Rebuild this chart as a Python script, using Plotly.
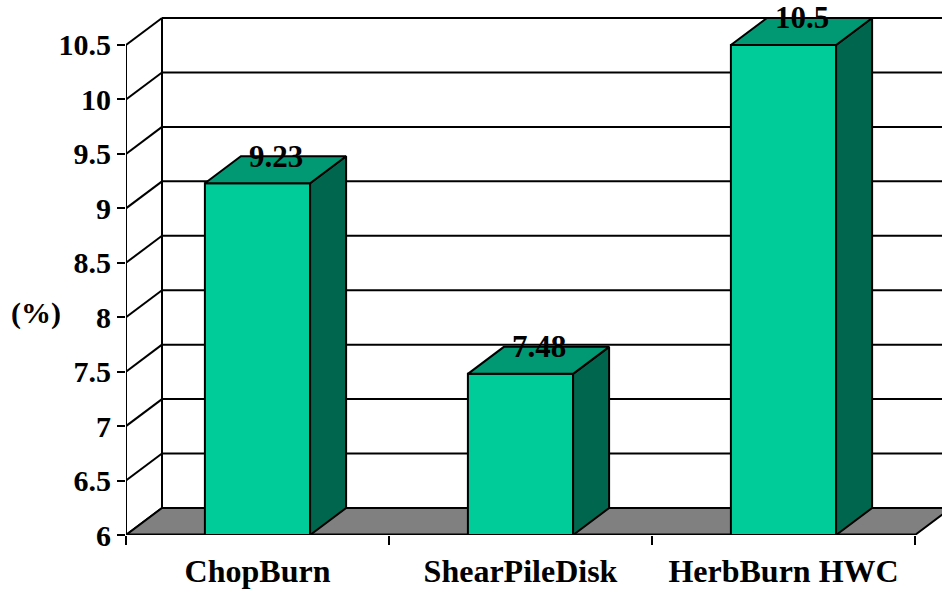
import plotly.graph_objects as go

categories = ["ChopBurn", "ShearPileDisk", "HerbBurn HWC"]
values = [9.23, 7.48, 10.5]
value_labels = ["9.23", "7.48", "10.5"]
y_ticks = [6, 6.5, 7, 7.5, 8, 8.5, 9, 9.5, 10, 10.5]
y_ticktext = ["6", "6.5", "7", "7.5", "8", "8.5", "9", "9.5", "10", "10.5"]

# 3D look parameters (in axis units)
BASE = 6.0
DX = 36 / 263.0      # depth offset along x (category units)
DY = 27 / 108.89     # depth offset along y (value units)
HW = 0.2             # half bar width (category units)
X0, X1 = -0.5, len(categories) - 0.5

FRONT = "#00CC99"
TOP = "#009973"
SIDE = "#00664D"
FLOOR = "#808080"
FONT = "Liberation Serif"

fig = go.Figure()
shapes = []

def line(x0, y0, x1, y1, w=2):
    shapes.append(dict(type="line", xref="x", yref="y", x0=x0, y0=y0, x1=x1, y1=y1,
                       line=dict(color="black", width=w), layer="below"))

# back wall gridlines and left wall diagonals
for v in y_ticks:
    line(X0 + DX, v + DY, X1 + DX + 0.5, v + DY)
    line(X0, v, X0 + DX, v + DY)
# back wall vertical edge
line(X0 + DX, BASE + DY, X0 + DX, y_ticks[-1] + DY)

# floor
shapes.append(dict(type="path", xref="x", yref="y",
                   path=f"M {X0},{BASE} L {X1},{BASE} L {X1+DX},{BASE+DY} L {X0+DX},{BASE+DY} Z",
                   fillcolor=FLOOR, line=dict(color="black", width=2), layer="below"))
# front axis lines
line(X0, BASE, X1, BASE, 3)
line(X0, BASE, X0, y_ticks[-1], 2)

def poly(xs, ys, color):
    fig.add_trace(go.Scatter(x=xs + [xs[0]], y=ys + [ys[0]], mode="lines", fill="toself",
                             fillcolor=color, line=dict(color="black", width=2),
                             hoverinfo="skip", showlegend=False))

for i, v in enumerate(values):
    c = i
    # front face
    poly([c - HW, c + HW, c + HW, c - HW], [BASE, BASE, v, v], FRONT)
    # side face
    poly([c + HW, c + HW + DX, c + HW + DX, c + HW], [BASE, BASE + DY, v + DY, v], SIDE)
    # top face
    poly([c - HW, c + HW, c + HW + DX, c - HW + DX], [v, v, v + DY, v + DY], TOP)

annotations = []
for i, v in enumerate(values):
    annotations.append(dict(x=i + DX / 2, y=v + DY, xref="x", yref="y", text=value_labels[i],
                            showarrow=False, xanchor="center", yanchor="middle",
                            font=dict(family=FONT, size=31, color="black", weight="bold")))
annotations.append(dict(x=-0.11, y=8.04, xref="paper", yref="y", text="(%)", showarrow=False,
                        xanchor="center", yanchor="middle",
                        font=dict(family=FONT, size=30, color="black", weight="bold")))

W, H = 942, 589
ml, mb = 126, 54
xpix = 263.0
ypix = 108.89
fig.update_layout(
    width=W, height=H,
    margin=dict(l=ml, r=0, t=0, b=mb, pad=0),
    paper_bgcolor="white", plot_bgcolor="white",
    shapes=shapes, annotations=annotations,
    xaxis=dict(range=[X0, X0 + (W - ml) / xpix], showgrid=False, zeroline=False, showline=False,
               tickmode="array", tickvals=list(range(len(categories))), ticktext=categories,
               ticks="", ticklabelstandoff=14,
               tickfont=dict(family=FONT, size=32, color="black", weight="bold"),
               minor=dict(tickmode="array", tickvals=[X0 + k for k in range(len(categories) + 1)],
                          ticks="outside", ticklen=9, tickwidth=2, tickcolor="black"),
               fixedrange=True),
    yaxis=dict(range=[BASE, BASE + (H - mb) / ypix], showgrid=False, zeroline=False, showline=False,
               tickmode="array", tickvals=y_ticks, ticktext=y_ticktext,
               ticks="outside", ticklen=8, tickwidth=2, tickcolor="black",
               tickfont=dict(family=FONT, size=30, color="black", weight="bold"),
               fixedrange=True),
)

fig.write_html("out.html")
